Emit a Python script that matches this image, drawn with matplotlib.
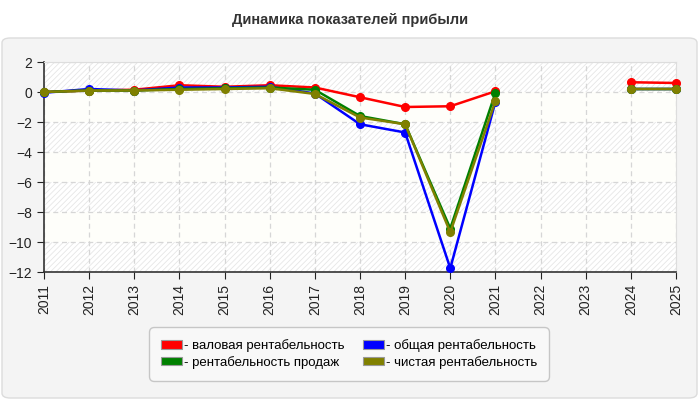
import numpy as np
import matplotlib.pyplot as plt
from matplotlib.patches import FancyBboxPatch, Patch

plt.rcParams['font.family'] = ['Liberation Sans', 'DejaVu Sans']
plt.rcParams['hatch.linewidth'] = 0.6

years = list(range(2011, 2026))
nan = np.nan
# валовая рентабельность
gross = [0.0, 0.1, 0.15, 0.45, 0.35, 0.45, 0.3, -0.35, -1.0, -0.95, 0.05, nan, nan, 0.65, 0.6]
# общая рентабельность
total = [-0.05, 0.2, 0.1, 0.3, 0.3, 0.35, -0.1, -2.15, -2.7, -11.75, -0.65, nan, nan, 0.2, 0.2]
# рентабельность продаж
sales = [0.0, 0.1, 0.1, 0.2, 0.25, 0.3, 0.15, -1.6, -2.15, -9.1, -0.05, nan, nan, 0.2, 0.2]
# чистая рентабельность
net = [0.0, 0.1, 0.1, 0.15, 0.2, 0.25, -0.13, -1.7, -2.15, -9.35, -0.6, nan, nan, 0.2, 0.2]

series = [
    ('- валовая рентабельность', gross, '#ff0000'),
    ('- рентабельность продаж', sales, '#008000'),
    ('- общая рентабельность', total, '#0000ff'),
    ('- чистая рентабельность', net, '#808000'),
]

fig = plt.figure(figsize=(7, 4), dpi=100)
fig.patch.set_facecolor('white')

# Панель с закруглёнными углами
panel = FancyBboxPatch((2 / 700, 2 / 400), 695 / 700, 360 / 400,
                       boxstyle='round,pad=0,rounding_size=0.012',
                       transform=fig.transFigure, facecolor='#f4f4f4',
                       edgecolor='#dcdcdc', linewidth=1, zorder=-5)
fig.patches.append(panel)

fig.text(0.5, 1 - 20 / 400, 'Динамика показателей прибыли', ha='center', va='center',
         fontsize=10.5, fontweight='bold', color='#333333')

ax = fig.add_axes([44 / 700, 1 - 272 / 400, 632 / 700, 210 / 400])
ax.set_facecolor('#fefefa')

# Полосы фона
for lo in [0, -4, -8, -12]:
    ax.axhspan(lo, lo + 2, facecolor='white', edgecolor='#e6e6e6', hatch='//////',
               linewidth=0, zorder=0)

ax.grid(True, color='#d6d6d6', linestyle=(0, (4, 3)), linewidth=0.9, zorder=1)

plot_order = [series[0], series[2], series[1], series[3]]
for label, vals, col in plot_order:
    ax.plot(years, vals, color=col, linewidth=1.8, marker='o', markersize=5.5,
            zorder=3, clip_on=False)

ax.set_xlim(2011, 2025)
ax.set_ylim(-12, 2)
ax.set_xticks(years)
ax.set_xticklabels([str(y) for y in years], rotation=90, fontsize=10, color='#222222')
ax.set_yticks(range(-12, 3, 2))
ax.tick_params(axis='y', labelsize=10, colors='#222222', length=5, direction='out')
ax.tick_params(axis='x', length=5, direction='out', colors='#222222')
for s in ['top', 'right']:
    ax.spines[s].set_color('#dddddd')
for s in ['left', 'bottom']:
    ax.spines[s].set_color('#333333')
    ax.spines[s].set_linewidth(1.2)

# Легенда
handles = [Patch(facecolor=c, edgecolor='#999999', linewidth=0.8) for _, _, c in series]
labels = [l for l, _, _ in series]
leg = fig.legend(handles, labels, loc='center', bbox_to_anchor=(349 / 700, 1 - 354 / 400),
                 ncol=2, fontsize=9.5, frameon=True, handlelength=1.6, handleheight=0.6,
                 handletextpad=0.15, columnspacing=1.4, labelspacing=0.3, borderpad=0.9)
leg.get_frame().set_facecolor('#fafafa')
leg.get_frame().set_edgecolor('#bbbbbb')
leg.get_frame().set_boxstyle('round,pad=0,rounding_size=0.4')

fig.savefig('out.png', dpi=100)
